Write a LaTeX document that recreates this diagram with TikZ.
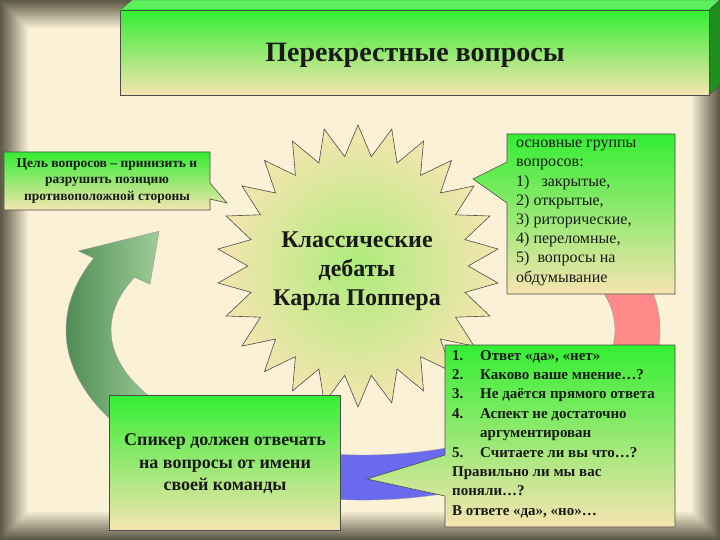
\documentclass[tikz,border=0pt]{standalone}
\usepackage{fontspec}
\setmainfont{Liberation Serif}
\usetikzlibrary{shapes.geometric}
\definecolor{cream}{HTML}{FBF1D6}
\definecolor{frame}{HTML}{5E5A48}
\definecolor{boxgreen}{HTML}{33EE33}
\definecolor{boxbeige}{HTML}{F6E4B0}
\definecolor{arrgreen}{HTML}{3F7F45}
\definecolor{arrgreenl}{HTML}{A8D4A0}
\definecolor{arrblue}{HTML}{6A6AEE}
\definecolor{arrred}{HTML}{FF8A8A}
\tikzset{
  gbox/.style={draw=black!70, line width=0.6pt, top color=boxgreen, bottom color=boxbeige},
  band/.style={draw=black!40, line width=0.4pt},
  txt/.style={font=\bfseries, text=black!90, inner sep=0pt},
}
\newcommand\cyclearrow[4]{% start, end, tip, style
  \path[band,#4] ([shift={(363,330)}]#1:297 and 170) arc[start angle=#1,end angle=#2,x radius=297,y radius=170]
   -- ([shift={(363,330)}]#2:314 and 187) -- ([shift={(363,330)}]#3:274.5 and 147.5)
   -- ([shift={(363,330)}]#2:235 and 108) -- ([shift={(363,330)}]#2:252 and 125)
   arc[start angle=#2,end angle=#1,x radius=252,y radius=125] -- cycle;}
\begin{document}
\begin{tikzpicture}[x=1pt,y=-1pt]
\useasboundingbox (0,0) rectangle (720,540);
% background frame
\fill[frame] (0,0) rectangle (720,540);
\foreach \i in {0,...,14}{
  \pgfmathsetmacro{\p}{\i*100/14}
  \fill[cream!\p!frame] (\i*2,\i*2) rectangle (720-\i*2,540-\i*2);
}
% cycle arrows
\cyclearrow{140}{205}{222}{left color=arrgreen, right color=arrgreenl}
\cyclearrow{20}{110}{125}{fill=arrblue}
\cyclearrow{-25}{10}{25}{fill=arrred}
% title box
\path[draw=black!70, fill=boxgreen!80!white] (120,10) -- (132,0) -- (720,0) -- (709,10) -- cycle;
\path[draw=black!70, fill=boxgreen!60!black] (709,10) -- (720,0) -- (720,85) -- (709,95) -- cycle;
\path[gbox] (120,10) rectangle (709,95);
\node[txt, font=\bfseries\fontsize{28}{32}\selectfont] (title) at (415,55) {Перекрестные вопросы};
% star
\node[star, star points=26, star point ratio=1.28, minimum size=282pt, draw=black!70, line width=0.6pt,
  inner color=green!30!boxbeige, outer color=boxbeige] (star) at (358,266) {};
\node[txt, align=center, font=\bfseries\fontsize{24}{29}\selectfont] (startext) at (357,271)
  {Классические\\дебаты\\Карла Поппера};
% left callout
\path[gbox] (4,152) -- (210,152) -- (210,183) -- (227,203) -- (210,199) -- (210,210) -- (4,210) -- cycle;
\node[txt, align=center, font=\bfseries\fontsize{13.5}{16.5}\selectfont] (goal) at (107,181)
  {Цель вопросов – принизить и\\разрушить позицию\\противоположной стороны};
% right top callout
\path[gbox] (507,134) -- (675,134) -- (675,294) -- (507,294) -- (507,203) -- (473,179) -- (507,162) -- cycle;
\node[txt, align=left, anchor=north west, font=\fontsize{16}{19.2}\selectfont] (groups) at (516,140)
  {основные группы\\вопросов:\\1)\enspace\ закрытые,\\2) открытые,\\3) риторические,\\4) переломные,\\5)\enspace вопросы на\\обдумывание};
% bottom right callout
\path[gbox] (445,345) -- (675,345) -- (675,527) -- (445,527) -- (445,496) -- (367,479) -- (445,455) -- cycle;
\node[txt, align=left, anchor=north west, font=\bfseries\fontsize{15}{19.4}\selectfont] (answers) at (452,350)
  {\makebox[28pt][l]{1.}Ответ «да», «нет»\\
   \makebox[28pt][l]{2.}Каково ваше мнение…?\\
   \makebox[28pt][l]{3.}Не даётся прямого ответа\\
   \makebox[28pt][l]{4.}Аспект не достаточно\\
   \makebox[28pt][l]{}аргументирован\\
   \makebox[28pt][l]{5.}Считаете ли вы что…?\\
   Правильно ли мы вас\\поняли…?\\В ответе «да», «но»…};
% bottom left box
\path[gbox] (109,395) rectangle (340,530);
\node[txt, align=center, font=\bfseries\fontsize{18}{22.5}\selectfont] (speaker) at (225,464)
  {Спикер должен отвечать\\на вопросы от имени\\своей команды};
\end{tikzpicture}
\end{document}
